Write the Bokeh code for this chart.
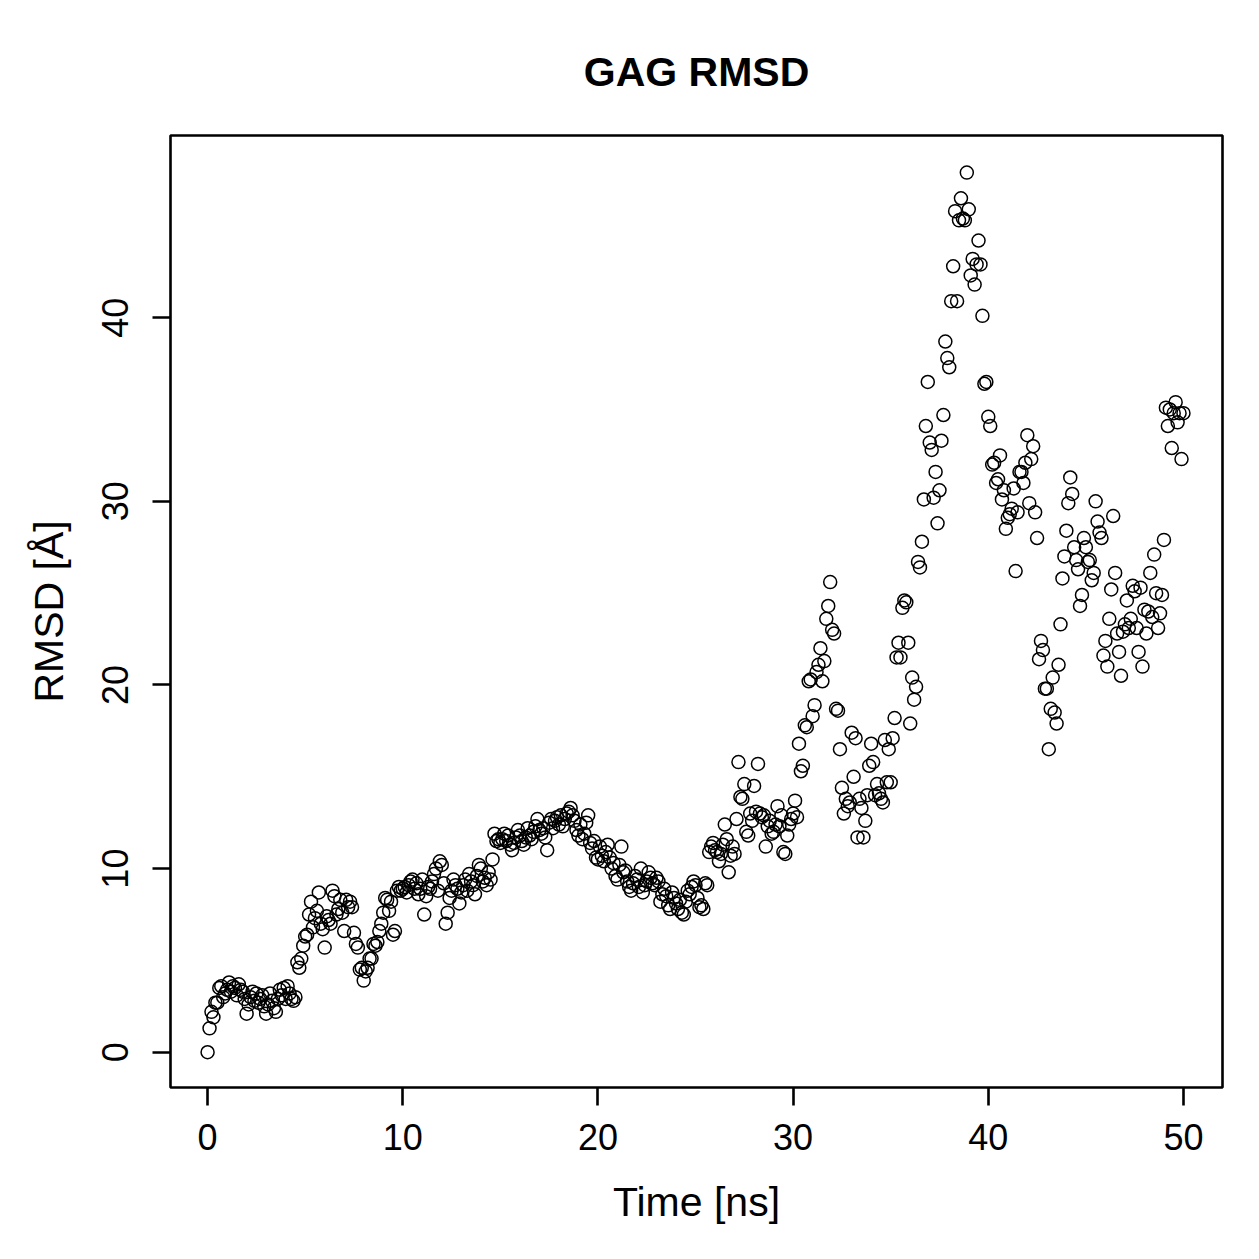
import numpy as np
from bokeh.plotting import figure
from bokeh.models import Range1d, FixedTicker
from bokeh.embed import file_html
from bokeh.resources import INLINE

# RMSD of the GAG chain, one frame every 0.1 ns
rmsd = [
    # 0-5 ns
    0.0, 1.3, 2.2, 1.9, 2.7, 2.7, 3.5, 3.6, 3.0, 3.2,
    3.4, 3.8, 3.3, 3.6, 3.5, 3.1, 3.7, 3.4, 3.3, 2.9,
    2.1, 2.6, 3.0, 3.3, 2.8, 3.2, 2.7, 2.9, 3.1, 2.5,
    2.1, 2.6, 3.2, 2.8, 2.4, 2.2, 2.9, 3.4, 3.1, 3.5,
    2.9, 3.6, 3.2, 2.9, 2.8, 3.0, 4.9, 4.6, 5.1, 5.8,
    # 5-10 ns
    6.3, 6.4, 7.5, 8.2, 6.8, 7.3, 7.7, 8.7, 7.0, 6.7,
    5.7, 7.4, 7.2, 7.0, 8.8, 8.5, 7.5, 7.8, 8.3, 7.6,
    6.6, 8.3, 7.9, 8.2, 7.9, 6.5, 5.9, 5.7, 4.5, 4.6,
    3.9, 4.4, 4.6, 5.1, 5.1, 5.9, 5.8, 6.0, 6.6, 7.0,
    7.6, 8.4, 8.3, 7.7, 8.2, 6.4, 6.6, 8.8, 9.0, 8.8,
    # 10-15 ns
    8.9, 9.0, 8.7, 9.1, 9.3, 9.4, 8.9, 9.2, 8.6, 8.9,
    9.4, 7.5, 8.5, 9.0, 8.9, 9.3, 9.7, 10.0, 8.8, 10.4,
    10.2, 9.2, 7.0, 7.6, 8.4, 8.8, 9.4, 9.1, 8.9, 8.1,
    8.7, 9.1, 9.4, 8.8, 9.7, 9.3, 9.1, 8.6, 9.6, 10.2,
    10.0, 9.3, 9.5, 9.1, 9.8, 9.4, 10.5, 11.9, 11.5, 11.6,
    # 15-20 ns
    11.4, 11.6, 11.9, 11.5, 11.8, 11.3, 11.0, 11.4, 11.7, 12.1,
    11.8, 11.5, 11.3, 11.7, 12.2, 11.8, 11.6, 12.0, 12.3, 12.7,
    12.1, 11.9, 12.2, 11.7, 11.0, 12.5, 12.7, 12.2, 12.6, 12.8,
    12.4, 12.9, 12.3, 12.7, 13.0, 13.1, 13.3, 12.9, 12.6, 12.1,
    11.8, 12.4, 11.6, 11.9, 12.5, 12.9, 11.4, 11.1, 11.5, 10.6,
    # 20-25 ns
    10.5, 11.2, 10.7, 10.4, 10.9, 11.3, 10.6, 10.0, 10.3, 9.6,
    9.4, 10.2, 11.2, 9.8, 9.9, 9.3, 9.0, 8.8, 9.2, 9.6,
    9.4, 9.0, 10.0, 8.7, 9.1, 9.3, 9.8, 9.5, 9.2, 9.1,
    9.5, 9.3, 8.2, 8.6, 8.9, 8.5, 8.0, 7.8, 8.7, 8.4,
    8.1, 7.8, 8.3, 7.6, 7.5, 8.2, 8.8, 8.6, 9.0, 9.3,
    # 25-30 ns
    9.1, 8.4, 7.9, 8.0, 7.8, 9.2, 9.1, 10.9, 11.2, 11.4,
    11.0, 10.9, 10.4, 10.8, 11.3, 12.4, 11.6, 9.8, 10.7, 11.2,
    10.8, 12.7, 15.8, 13.9, 13.8, 14.6, 12.0, 11.8, 13.0, 12.6,
    14.5, 13.1, 15.7, 13.0, 12.8, 12.9, 11.2, 12.3, 12.6, 11.9,
    12.0, 12.4, 13.4, 12.3, 12.9, 10.9, 10.8, 11.8, 12.4, 12.7,
    # 30-35 ns
    13.0, 13.7, 12.8, 16.8, 15.3, 15.6, 17.8, 17.7, 20.2, 20.3,
    18.3, 18.9, 20.7, 21.1, 22.0, 20.2, 21.3, 23.6, 24.3, 25.6,
    23.0, 22.8, 18.7, 18.6, 16.5, 14.4, 13.0, 13.8, 13.4, 13.6,
    17.4, 15.0, 17.1, 11.7, 13.8, 13.3, 11.7, 12.6, 14.0, 15.6,
    16.8, 15.8, 14.0, 14.6, 14.1, 13.8, 13.6, 17.0, 14.7, 16.5,
    # 35-40 ns
    14.7, 17.1, 18.2, 21.5, 22.3, 21.5, 24.2, 24.6, 24.5, 22.3,
    17.9, 20.4, 19.2, 19.9, 26.7, 26.4, 27.8, 30.1, 34.1, 36.5,
    33.2, 32.8, 30.2, 31.6, 28.8, 30.6, 33.3, 34.7, 38.7, 37.8,
    37.3, 40.9, 42.8, 45.8, 40.9, 45.3, 46.5, 45.4, 45.3, 47.9,
    45.9, 42.3, 43.2, 41.8, 42.9, 44.2, 42.9, 40.1, 36.4, 36.5,
    # 40-45 ns
    34.6, 34.1, 32.0, 32.1, 31.0, 31.2, 32.5, 30.1, 30.6, 28.5,
    29.1, 29.3, 29.6, 30.7, 26.2, 29.4, 31.6, 31.6, 31.0, 32.1,
    33.6, 29.9, 32.3, 33.0, 29.4, 28.0, 21.4, 22.4, 21.9, 19.8,
    19.8, 16.5, 18.7, 20.4, 18.5, 17.9, 21.1, 23.3, 25.8, 27.0,
    28.4, 29.9, 31.3, 30.4, 27.5, 26.8, 26.3, 24.3, 24.9, 28.0,
    # 45-50 ns
    27.5, 26.7, 26.8, 25.7, 26.1, 30.0, 28.9, 28.3, 28.0, 21.6,
    22.4, 21.0, 23.6, 25.2, 29.2, 26.1, 22.8, 21.8, 20.5, 22.9,
    23.3, 24.6, 23.1, 23.6, 25.4, 25.1, 23.1, 21.8, 25.3, 21.0,
    24.1, 22.8, 24.0, 26.1, 23.7, 27.1, 25.0, 23.1, 23.9, 24.9,
    27.9, 35.1, 34.1, 35.0, 32.9, 34.8, 35.4, 34.3, 34.8, 32.3,
    34.8,
]
time_ns = [round(0.1 * i, 1) for i in range(len(rmsd))]

x_ticks = [0, 10, 20, 30, 40, 50]
y_ticks = [0, 10, 20, 30, 40]

FONT = "Liberation Sans"

p = figure(
    width=1259, height=1259,
    output_backend="svg", toolbar_location=None,
    x_range=Range1d(-1.9, 52.0), y_range=Range1d(-1.92, 49.92),
    min_border_left=170, min_border_right=37,
    min_border_top=135, min_border_bottom=172,
    title="GAG RMSD",
)
p.background_fill_color = "white"
p.border_fill_color = "white"
p.outline_line_color = "black"
p.outline_line_width = 2.6
p.grid.visible = False

p.title.align = "center"
p.title.text_font = FONT
p.title.text_font_style = "bold"
p.title.text_font_size = "41px"
p.title.text_color = "black"
p.title.standoff = 82

for ax, ticks in ((p.xaxis, x_ticks), (p.yaxis, y_ticks)):
    ax.ticker = FixedTicker(ticks=ticks)
    ax.axis_line_color = None
    ax.major_tick_line_color = "black"
    ax.major_tick_line_width = 2.6
    ax.major_tick_out = 18
    ax.major_tick_in = 0
    ax.minor_tick_line_color = None
    ax.major_label_text_font = FONT
    ax.major_label_text_font_size = "36px"
    ax.major_label_text_color = "black"
    ax.axis_label_text_font = FONT
    ax.axis_label_text_font_size = "41px"
    ax.axis_label_text_font_style = "normal"
    ax.axis_label_text_color = "black"

p.xaxis.axis_label = "Time [ns]"
p.yaxis.axis_label = "RMSD [Å]"
p.xaxis.major_label_standoff = 18
p.xaxis.axis_label_standoff = 26
p.yaxis.major_label_orientation = "vertical"
p.yaxis.major_label_standoff = 24
p.yaxis.axis_label_standoff = 28

p.scatter(time_ns, rmsd, marker="circle", size=13,
          fill_color=None, line_color="black", line_width=1.5)

open("out.html", "w").write(file_html(p, INLINE))
